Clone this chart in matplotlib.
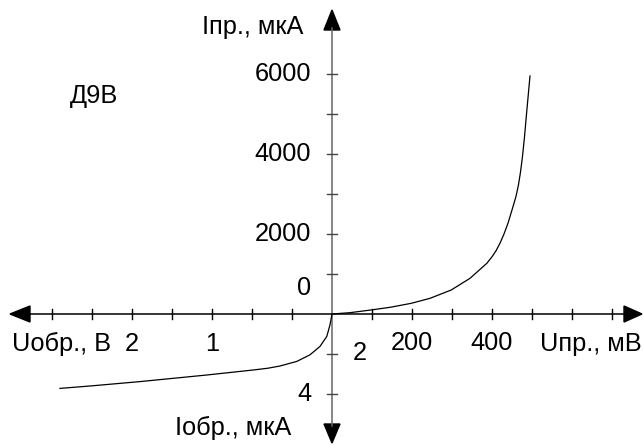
import numpy as np
import matplotlib
matplotlib.use('Agg')
from matplotlib import pyplot as plt

# прямая ветвь: напряжение (мВ) и ток (мкА)
u_pr_mv = [0, 45, 97, 145, 198, 245, 298, 345, 387, 400, 410, 420, 430, 440,
           450, 460, 466, 471, 476, 481, 487, 495]
i_pr_ua = [0, 33, 100, 167, 267, 392, 600, 892, 1267, 1430, 1580, 1770, 2000,
           2270, 2600, 2940, 3220, 3530, 3920, 4400, 5080, 5950]

# обратная ветвь: напряжение в делениях шкалы, ток (мкА)
u_obr_div = [0, 0.05, 0.13, 0.3, 0.55, 0.88, 1.3, 1.6, 1.97, 3.13, 4.8, 6.05, 6.8]
i_obr_ua = [0, 0.54, 1.12, 1.62, 2.04, 2.37, 2.6, 2.71, 2.8, 3.05, 3.38, 3.6, 3.72]

# подписи шкал
i_pr_labels = ['2000', '4000', '6000']
i_pr_pos = [2, 4, 6]
u_pr_labels = ['200', '400']
u_pr_pos = [2, 4]
u_obr_labels = ['1', '2']
u_obr_pos = [3, 5]

# масштаб: одно деление = 100 мВ, 1000 мкА, 2 мкА
mv_per_div = 100
ua_pr_per_div = 1000
ua_obr_per_div = 2

plt.rcParams['font.family'] = ['Liberation Sans', 'DejaVu Sans']
fs = 18.3

fig = plt.figure(figsize=(6.43, 4.46), dpi=100)
ax = fig.add_axes([0, 0, 1, 1])
ax.set_xlim(-8.3, 7.775)
ax.set_ylim(-3.3, 7.85)
ax.axis('off')

# оси
ax.plot([-7.6, 7.35], [0, 0], color='black', lw=1.1)
ax.plot([0, 0], [-2.8, 7.15], color='#666666', lw=1.1)
ax.fill([7.75, 7.3, 7.3], [0, 0.2, -0.2], color='black')
ax.fill([-8.05, -7.55, -7.55], [0, 0.2, -0.2], color='black')
ax.fill([0, -0.2, 0.2], [7.6, 7.1, 7.1], color='black')
ax.fill([0, -0.2, 0.2], [-3.225, -2.75, -2.75], color='black')

# деления
for k in list(range(-7, 0)) + list(range(1, 8)):
    ax.plot([k, k], [-0.12, 0.12], color='black', lw=1)
for k in [-2, -1, 1, 2, 3, 4, 5, 6]:
    ax.plot([-0.12, 0.12], [k, k], color='#444444', lw=1)

# характеристика
x_pr = np.array(u_pr_mv) / mv_per_div
y_pr = np.array(i_pr_ua) / ua_pr_per_div
x_obr = -np.array(u_obr_div)
y_obr = -np.array(i_obr_ua) / ua_obr_per_div
ax.plot(x_pr, y_pr, color='black', lw=0.9, solid_joinstyle='round')
ax.plot(x_obr, y_obr, color='black', lw=0.9, solid_joinstyle='round')

# подписи
for t, p in zip(i_pr_labels, i_pr_pos):
    ax.text(-0.52, p, t, fontsize=fs, ha='right', va='center')
ax.text(-0.52, 0.65, '0', fontsize=fs, ha='right', va='center')
for t, p in zip(u_pr_labels, u_pr_pos):
    ax.text(p, -0.72, t, fontsize=fs, ha='center', va='center')
for t, p in zip(u_obr_labels, u_obr_pos):
    ax.text(-p, -0.75, t, fontsize=fs, ha='center', va='center')
ax.text(0.7, -0.97, '2', fontsize=fs, ha='center', va='center')
ax.text(-0.68, -2.0, '4', fontsize=fs, ha='center', va='center')

ax.text(-0.72, 7.17, 'Iпр., мкА', fontsize=fs, ha='right', va='center')
ax.text(-2.47, -2.85, 'Iобр., мкА', fontsize=fs, ha='center', va='center')
ax.text(-8.0, -0.76, 'Uобр., В', fontsize=fs, ha='left', va='center')
ax.text(5.2, -0.76, 'Uпр., мВ', fontsize=fs, ha='left', va='center')
ax.text(-6.55, 5.45, 'Д9В', fontsize=fs, ha='left', va='center')

fig.savefig('out.png', dpi=100)
